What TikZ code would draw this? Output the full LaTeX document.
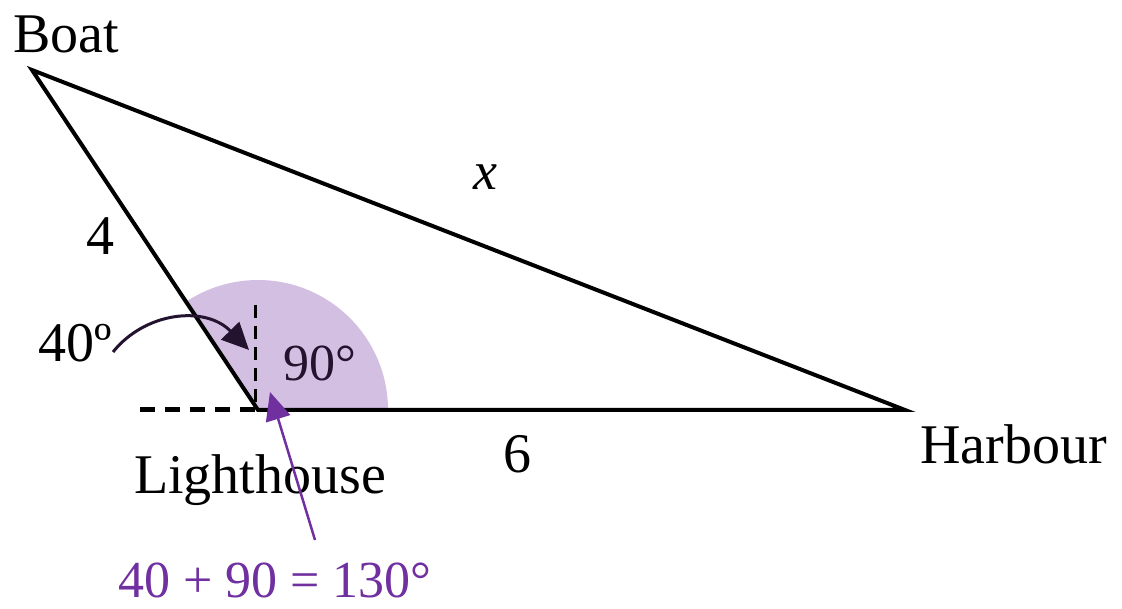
\documentclass[tikz,border=0pt]{standalone}
\usepackage{fontspec}
\setmainfont{Liberation Serif}
\usetikzlibrary{arrows.meta}
\definecolor{sectorfill}{HTML}{D3BFE2}
\definecolor{sumpurple}{HTML}{7030A0}
\definecolor{darkpurple}{HTML}{24132F}
\tikzset{
  side/.style={line width=4pt, line join=miter, line cap=round},
  lbl/.style={inner sep=0pt, font=\fontsize{56}{60}\selectfont},
  mathlbl/.style={inner sep=0pt, font=\fontsize{52}{56}\selectfont},
  vguide/.style={line width=3pt, dash pattern=on 13pt off 8pt},
}
\begin{document}
\begin{tikzpicture}[x=1pt,y=-1pt]
\useasboundingbox (0,0) rectangle (1122,609);
\coordinate (B) at (32,70);
\coordinate (L) at (258,410);
\coordinate (H) at (905,410);
% sector
\fill[sectorfill] (L) -- ++(130,0) arc[start angle=0, end angle=-123.6, radius=130] -- cycle;
% dashed guides
\coordinate (dl) at (140,410);
\draw[line width=5pt, dash pattern=on 15pt off 10pt] (dl) -- (L);
\coordinate (vt) at (255,305);
\coordinate (vb) at (255,405);
\draw[vguide] (vt) -- (vb);
% triangle
\draw[side] (B) -- (L) -- (H) -- cycle;
% labels
\node[lbl, anchor=base west] (boat) at (13,53) {Boat};
\node[lbl, anchor=base west] (harb) at (920,463) {Harbour};
\node[lbl, anchor=base] (light) at (260,493) {Lighthouse};
\node[lbl, anchor=base] (four) at (100,255) {4};
\node[lbl, anchor=base] (six) at (517,472) {6};
\node[lbl, anchor=base] (forty) at (75,362) {40º};
\node[inner sep=0pt, font=\fontsize{54}{58}\selectfont\itshape, anchor=base] (x) at (485,190) {x};
\node[mathlbl, anchor=base, text=darkpurple] (ninety) at (320,381) {90°};
\node[mathlbl, anchor=base, text=sumpurple] (sum) at (275,597) {40 + 90 = 130°};
% 40 degree arrow
\coordinate (as) at (113,352);
\coordinate (ae) at (249,350);
\draw[line width=3pt, -{Triangle[length=27pt,width=25pt]}, darkpurple] (as) .. controls (145,312) and (205,305) .. (ae);
% purple arrow
\coordinate (ps) at (315,540);
\coordinate (pe) at (270,392);
\draw[line width=2.5pt, sumpurple, -{Triangle[length=28pt,width=25pt]}] (ps) -- (pe);
\end{tikzpicture}
\end{document}
